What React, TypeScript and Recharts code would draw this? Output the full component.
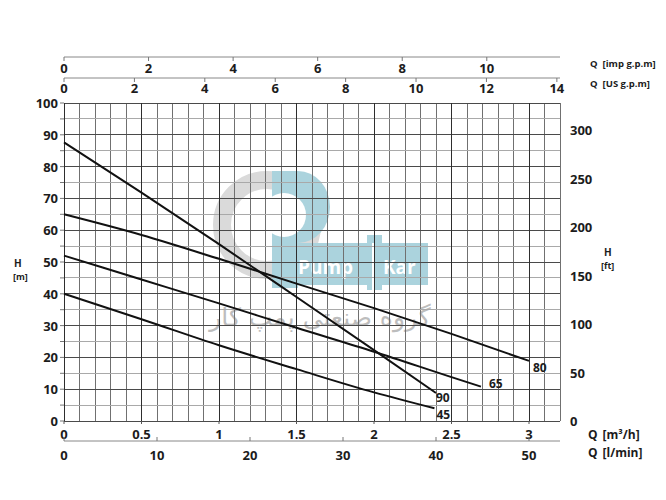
import React from "react";
import {
  LineChart,
  Line,
  XAxis,
  YAxis,
  CartesianGrid,
  ReferenceLine,
} from "recharts";

// flow axis (m3/h): grid every 0.1, labels every 0.5
const Q_TICKS = [
  0, 0.1, 0.2, 0.3, 0.4, 0.5, 0.6, 0.7, 0.8, 0.9, 1, 1.1, 1.2, 1.3, 1.4, 1.5,
  1.6, 1.7, 1.8, 1.9, 2, 2.1, 2.2, 2.3, 2.4, 2.5, 2.6, 2.7, 2.8, 2.9, 3, 3.1,
  3.2,
];
const Q_LABELS = [0, 0.5, 1, 1.5, 2, 2.5, 3];
const H_TICKS = [
  0, 5, 10, 15, 20, 25, 30, 35, 40, 45, 50, 55, 60, 65, 70, 75, 80, 85, 90, 95,
  100,
];
const H_LABELS = [0, 10, 20, 30, 40, 50, 60, 70, 80, 90, 100];
const FT_TICKS = [0, 50, 100, 150, 200, 250, 300];
const US_GPM_TICKS = [0, 2, 4, 6, 8, 10, 12, 14];
const IMP_GPM_TICKS = [0, 2, 4, 6, 8, 10];
const LMIN_TICKS = [0, 10, 20, 30, 40, 50];

// curves: Q in m3/h, H in m
const Q_90 = [0, 0.5, 1, 1.5, 2, 2.4];
const H_90 = [87.6, 71.8, 55.6, 39, 22.3, 8.8];
const Q_80 = [0, 0.5, 1, 1.5, 2, 2.5, 3];
const H_80 = [65, 58.5, 51, 43.2, 35.5, 27.4, 18.9];
const Q_65 = [0, 0.5, 1, 1.5, 2, 2.5, 2.69];
const H_65 = [52, 44.5, 37, 29.3, 21.8, 13.8, 10.8];
const Q_45 = [0, 0.5, 1, 1.5, 2, 2.39];
const H_45 = [40, 32, 23.8, 16.3, 9, 4];

// unit conversions for the secondary axes
const US_GPM_PER_M3H = 4.40287;
const IMP_GPM_PER_M3H = 3.66615;
const LMIN_PER_M3H = 1000 / 60;
const FT_PER_M = 3.28084;
const Q_MAX = 3.2;
const H_MAX = 100;

// axis ids: recharts stacks same-side axes in id order (nearest first)
const AX_SPACER = "t1";
const AX_US = "t2";
const AX_IMP = "t3";
const AX_Q = "b1";
const AX_L = "b2";

const toRows = (qs: number[], hs: number[], k = 1) =>
  qs.map((q, i) => ({ q: q * k, h: hs[i] }));

const curves = [
  { name: "90", data: toRows(Q_90, H_90), dx: 0, dy: 4 },
  { name: "80", data: toRows(Q_80, H_80), dx: 4, dy: 7 },
  { name: "65", data: toRows(Q_65, H_65), dx: 8, dy: -3 },
  { name: "45", data: toRows(Q_45, H_45), dx: 2, dy: 6 },
];

// the same 80 curve in the other flow units, invisible, so that the
// secondary flow axes have a series of their own
const unitCopies = [
  { axis: AX_US, k: US_GPM_PER_M3H },
  { axis: AX_IMP, k: IMP_GPM_PER_M3H },
  { axis: AX_L, k: LMIN_PER_M3H },
];

const FONT = "'Open Sans', 'DejaVu Sans', sans-serif";
const numStyle = {
  fontFamily: FONT,
  fontSize: 13,
  fontWeight: 700,
  fill: "#1c1c1c",
};
const smallStyle = {
  fontFamily: FONT,
  fontSize: 10,
  fontWeight: 700,
  fill: "#1c1c1c",
};

const topTick = (gap: number) => (p: any) => (
  <g>
    <line x1={p.x} x2={p.x} y1={p.y} y2={p.y + 4} stroke="#777" />
    <text
      x={p.x}
      y={p.y + gap}
      textAnchor="middle"
      dominantBaseline="central"
      style={numStyle}
    >
      {p.payload.value}
    </text>
  </g>
);

const QTick = (p: any) => {
  if (!Q_LABELS.includes(p.payload.value)) return <g />;
  return (
    <g>
      <line x1={p.x} x2={p.x} y1={p.y} y2={p.y + 3} stroke="#555" />
      <text
        x={p.x}
        y={p.y + 13}
        textAnchor="middle"
        dominantBaseline="central"
        style={numStyle}
      >
        {p.payload.value}
      </text>
    </g>
  );
};

const LminTick = (p: any) => (
  <g>
    <line x1={p.x} x2={p.x} y1={p.y} y2={p.y - 4} stroke="#777" />
    <text
      x={p.x}
      y={p.y + 14}
      textAnchor="middle"
      dominantBaseline="central"
      style={numStyle}
    >
      {p.payload.value}
    </text>
  </g>
);

const HTick = (p: any) => (
  <g>
    <line x1={p.x - 4} x2={p.x} y1={p.y} y2={p.y} stroke="#777" />
    {H_LABELS.includes(p.payload.value) && (
      <text
        x={p.x - 6}
        y={p.y}
        textAnchor="end"
        dominantBaseline="central"
        style={numStyle}
      >
        {p.payload.value}
      </text>
    )}
  </g>
);

const FtTick = (p: any) => (
  <text
    x={p.x + 10}
    y={p.y}
    textAnchor="start"
    dominantBaseline="central"
    style={numStyle}
  >
    {p.payload.value}
  </text>
);

const endLabel = (name: string, count: number, dx: number, dy: number) =>
  (p: any) =>
    p.index === count - 1 ? (
      <text
        key={name}
        x={p.x + dx}
        y={p.y + dy}
        textAnchor="start"
        dominantBaseline="central"
        style={{ ...numStyle, fontSize: 12 }}
      >
        {name}
      </text>
    ) : null;

const QTitle = ({ x, y, unit, style }: any) => (
  <text x={x} y={y} style={style}>
    Q
    <tspan dx={5}>{unit}</tspan>
  </text>
);

// logo watermark + axis titles, drawn behind the chart (chart coordinates)
const Backdrop = () => (
  <svg
    width={650}
    height={484}
    style={{ position: "absolute", left: 0, top: 0 }}
  >
    <circle cx={259} cy={217} r={45} fill="none" stroke="#dadada" strokeWidth={18} />
    <path d="M264 163 L290 163 A32 36 0 0 1 290 235 L264 235 Z" fill="#abd3dd" />
    <rect x={264} y={163} width={26} height={117} fill="#abd3dd" />
    <circle cx={276} cy={207} r={22} fill="#ffffff" />
    <rect x={264} y={235} width={156} height={42} fill="#abd3dd" />
    <rect x={359} y={227} width={15} height={55} fill="#abd3dd" />
    <line x1={365} x2={365} y1={235} y2={282} stroke="#ffffff" strokeWidth={2} />
    <text x={290} y={266} style={{ fontFamily: FONT, fontSize: 19, fontWeight: 700, fill: "#ffffff" }}>
      Pump
    </text>
    <text x={375} y={266} style={{ fontFamily: FONT, fontSize: 19, fontWeight: 700, fill: "#ffffff" }}>
      Kar
    </text>
    <text
      x={312}
      y={318}
      textAnchor="middle"
      style={{ fontFamily: "'DejaVu Sans', sans-serif", fontSize: 25, fill: "#bdbdbd" }}
    >
      گروه صنعتی پمپ کار
    </text>

    <text x={6} y={259} style={smallStyle}>H</text>
    <text x={5} y={272} style={{ ...smallStyle, fontSize: 9 }}>[m]</text>
    <text x={596} y={248} style={smallStyle}>H</text>
    <text x={593} y={261} style={{ ...smallStyle, fontSize: 9 }}>[ft]</text>
    <QTitle x={582} y={59} unit="[imp g.p.m]" style={{ ...smallStyle, fontSize: 9.5 }} />
    <QTitle x={582} y={79} unit="[US g.p.m]" style={{ ...smallStyle, fontSize: 9.5 }} />
    <QTitle x={580} y={431} unit="[m³/h]" style={{ ...numStyle, fontSize: 12 }} />
    <QTitle x={580} y={449} unit="[l/min]" style={{ ...numStyle, fontSize: 12 }} />
  </svg>
);

export default function App() {
  return (
    <div style={{ position: "relative", width: 650, height: 484 }}>
      <Backdrop />
      <div style={{ position: "relative" }}>
        <LineChart
          width={650}
          height={484}
          margin={{ top: 0, right: 58, bottom: 21, left: 0 }}
        >
          <CartesianGrid
            xAxisId={AX_Q}
            yAxisId="m"
            horizontal={false}
            stroke="#707070"
            shapeRendering="crispEdges"
          />
          <CartesianGrid
            xAxisId={AX_Q}
            yAxisId="m"
            vertical={false}
            stroke="#a9a9a9"
            shapeRendering="crispEdges"
          />
          {H_LABELS.map((h) => (
            <ReferenceLine
              key={`h${h}`}
              xAxisId={AX_Q}
              yAxisId="m"
              y={h}
              stroke="#4a4a4a"
              shapeRendering="crispEdges"
            />
          ))}
          {Q_LABELS.map((q) => (
            <ReferenceLine
              key={`q${q}`}
              xAxisId={AX_Q}
              yAxisId="m"
              x={q}
              stroke="#2e2e2e"
              shapeRendering="crispEdges"
            />
          ))}

          {/* top axes: a spacer next to the plot, then US and imperial gpm */}
          <XAxis
            xAxisId={AX_SPACER}
            orientation="top"
            type="number"
            domain={[0, Q_MAX]}
            allowDataOverflow
            height={25}
            tick={false}
            tickLine={false}
            axisLine={false}
          />
          <XAxis
            xAxisId={AX_US}
            dataKey="q"
            orientation="top"
            type="number"
            domain={[0, Q_MAX * US_GPM_PER_M3H]}
            allowDataOverflow
            ticks={US_GPM_TICKS}
            height={21}
            tickSize={0}
            tickMargin={0}
            tickLine={false}
            tick={topTick(10)}
            axisLine={{ stroke: "#888" }}
            interval={0}
          />
          <XAxis
            xAxisId={AX_IMP}
            dataKey="q"
            orientation="top"
            type="number"
            domain={[0, Q_MAX * IMP_GPM_PER_M3H]}
            allowDataOverflow
            ticks={IMP_GPM_TICKS}
            height={49}
            tickSize={0}
            tickMargin={0}
            tickLine={false}
            tick={topTick(11)}
            axisLine={{ stroke: "#888" }}
            interval={0}
          />

          {/* bottom axes: m3/h then l/min */}
          <XAxis
            xAxisId={AX_Q}
            dataKey="q"
            type="number"
            domain={[0, Q_MAX]}
            ticks={Q_TICKS}
            height={20}
            tickSize={0}
            tickMargin={0}
            tickLine={false}
            tick={QTick}
            axisLine={false}
            interval={0}
          />
          <XAxis
            xAxisId={AX_L}
            dataKey="q"
            type="number"
            domain={[0, Q_MAX * LMIN_PER_M3H]}
            allowDataOverflow
            ticks={LMIN_TICKS}
            height={30}
            tickSize={0}
            tickMargin={0}
            tickLine={false}
            tick={LminTick}
            axisLine={{ stroke: "#888" }}
            interval={0}
          />

          <YAxis
            yAxisId="m"
            type="number"
            domain={[0, H_MAX]}
            ticks={H_TICKS}
            width={56}
            tickSize={0}
            tickMargin={0}
            tickLine={false}
            tick={HTick}
            axisLine={false}
            interval={0}
          />
          <YAxis
            yAxisId="ft"
            orientation="right"
            type="number"
            domain={[0, H_MAX * FT_PER_M]}
            allowDataOverflow
            ticks={FT_TICKS}
            width={40}
            tickSize={0}
            tickMargin={0}
            tickLine={false}
            tick={FtTick}
            axisLine={false}
            interval={0}
          />

          {unitCopies.map((u) => (
            <Line
              key={`copy-${u.axis}`}
              xAxisId={u.axis}
              yAxisId="m"
              data={toRows(Q_80, H_80, u.k)}
              dataKey="h"
              stroke="none"
              strokeWidth={0}
              dot={false}
              activeDot={false}
              isAnimationActive={false}
            />
          ))}

          {curves.map((c) => (
            <Line
              key={c.name}
              xAxisId={AX_Q}
              yAxisId="m"
              data={c.data}
              dataKey="h"
              type="monotone"
              stroke="#111"
              strokeWidth={2}
              dot={false}
              activeDot={false}
              isAnimationActive={false}
              label={endLabel(c.name, c.data.length, c.dx, c.dy)}
            />
          ))}
        </LineChart>
      </div>
    </div>
  );
}
